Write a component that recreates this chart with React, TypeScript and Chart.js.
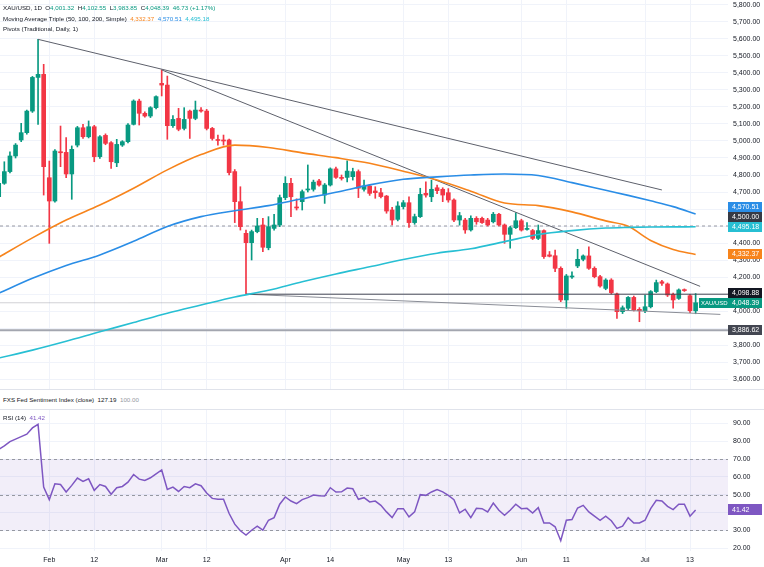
import { useEffect, useRef } from "react";
import { Chart, registerables } from "chart.js";

Chart.register(...registerables);

const FONT = "'Liberation Sans', Arial, sans-serif";
const TEXT = "#131722";
const GRID = "#f0f3fa";
const UP = "#089981";
const DOWN = "#f23645";
const MA50_COLOR = "#f7841c";
const MA100_COLOR = "#2a8de6";
const MA200_COLOR = "#27bfd3";
const RSI_COLOR = "#7e57c2";

// Trading sessions shown (weekends and Good Friday have no bar)
const janDays = [20, 21, 22, 23, 26, 27, 28, 29, 30];
const febDays = [2, 3, 4, 5, 6, 9, 10, 11, 12, 13, 16, 17, 18, 19, 20, 23, 24, 25, 26, 27];
const marDays = [2, 3, 4, 5, 6, 9, 10, 11, 12, 13, 16, 17, 18, 19, 20, 23, 24, 25, 26, 27, 30, 31];
const aprDays = [1, 2, 6, 7, 8, 9, 10, 13, 14, 15, 16, 17, 20, 21, 22, 23, 24, 27, 28, 29, 30];
const mayDays = [1, 4, 5, 6, 7, 8, 11, 12, 13, 14, 15, 18, 19, 20, 21, 22, 25, 26, 27, 28, 29];
const junDays = [1, 2, 3, 4, 5, 8, 9, 10, 11, 12, 15, 16, 17, 18, 19, 22, 23, 24, 25, 26, 29, 30];
const julDays = [1, 2, 3, 6, 7, 8, 9, 10, 13, 14];

const sessionMonths: [string, number[]][] = [
  ["Jan", janDays], ["Feb", febDays], ["Mar", marDays], ["Apr", aprDays],
  ["May", mayDays], ["Jun", junDays], ["Jul", julDays],
];
const sessions: string[] = sessionMonths.flatMap(([m, days]) => days.map((d) => `${m} ${d}`));

// XAU/USD daily OHLC
const openPx = [
  4672, 4751, 4820, 4912, 5006, 5049, 5176, 5374, 5392, 4784,
  4647, 4937, 4933, 4806, 4976, 5078, 5025, 5084, 4908, 5033,
  4990, 4872, 4976, 4996, 5098, 5235, 5163, 5147, 5196, 5339,
  5329, 5090, 5133, 5074, 5176, 5133, 5182, 5176, 5074, 5008,
  5006, 5006, 4820, 4643, 4457, 4402, 4467, 4506, 4372, 4486,
  4506, 4667, 4751, 4612, 4643, 4712, 4716, 4765, 4682, 4741,
  4836, 4786, 4786, 4790, 4820, 4716, 4735, 4706, 4696, 4676,
  4594, 4539, 4614, 4637, 4520, 4555, 4692, 4672, 4725, 4716,
  4696, 4653, 4535, 4535, 4477, 4545, 4545, 4535, 4525, 4569,
  4506, 4451, 4490, 4531, 4480, 4473, 4427, 4473, 4330, 4325,
  4251, 4065, 4200, 4265, 4304, 4324, 4251, 4202, 4133, 4182,
  4100, 3996, 4016, 4080, 4010, 4002, 4025, 4114, 4172, 4159,
  4098, 4074, 4124, 4090, 4001.32,
];
const highPx = [
  4762, 4878, 4937, 4985, 5104, 5182, 5380, 5598, 5451, 4882,
  4950, 5088, 5020, 4971, 5086, 5098, 5118, 5092, 5032, 5042,
  4996, 5010, 5002, 5102, 5242, 5246, 5172, 5202, 5266, 5418,
  5382, 5150, 5192, 5196, 5182, 5235, 5196, 5186, 5080, 5035,
  5035, 5012, 4832, 4731, 4476, 4476, 4545, 4545, 4555, 4569,
  4682, 4790, 4780, 4660, 4712, 4859, 4770, 4775, 4750, 4842,
  4846, 4800, 4884, 4840, 4830, 4770, 4745, 4731, 4722, 4680,
  4610, 4643, 4650, 4672, 4570, 4722, 4760, 4770, 4740, 4725,
  4720, 4660, 4580, 4545, 4560, 4555, 4552, 4545, 4580, 4575,
  4512, 4498, 4578, 4540, 4520, 4480, 4506, 4478, 4350, 4359,
  4260, 4215, 4231, 4363, 4330, 4378, 4260, 4210, 4190, 4190,
  4105, 4030, 4085, 4088, 4020, 4094, 4120, 4182, 4180, 4165,
  4105, 4130, 4130, 4098, 4102.55,
];
const lowPx = [
  4660, 4745, 4812, 4900, 4996, 5040, 5168, 5098, 4682, 4398,
  4640, 4849, 4784, 4657, 4965, 5015, 5018, 4878, 4898, 4978,
  4839, 4849, 4968, 4988, 5094, 5094, 5140, 5138, 5188, 5265,
  5010, 5080, 5060, 5065, 5015, 5125, 5170, 5065, 5005, 4976,
  4976, 4800, 4520, 4476, 4098.88, 4300, 4460, 4349, 4360, 4476,
  4496, 4655, 4555, 4594, 4594, 4700, 4705, 4735, 4633, 4735,
  4780, 4770, 4760, 4770, 4667, 4705, 4680, 4663, 4665, 4575,
  4506, 4530, 4600, 4492, 4510, 4550, 4670, 4643, 4690, 4643,
  4640, 4525, 4505, 4457, 4470, 4510, 4515, 4500, 4518, 4500,
  4398, 4369, 4485, 4470, 4475, 4420, 4420, 4310, 4318, 4231,
  4055, 4016, 4192, 4255, 4295, 4245, 4195, 4140, 4125, 4100,
  3957, 3985, 4005, 4000, 3937, 3990, 4018, 4108, 4150, 4085,
  4016, 4068, 4115, 3990, 3983.85,
];
const closePx = [
  4751, 4820, 4912, 4976, 5049, 5176, 5374, 5392, 4849, 4647,
  4941, 4931, 4806, 4951, 5078, 5025, 5084, 4908, 5025, 4986,
  4878, 4980, 4996, 5094, 5235, 5163, 5147, 5196, 5261, 5329,
  5090, 5127, 5069, 5127, 5133, 5182, 5176, 5074, 5015, 5003,
  5000, 4814, 4643, 4496, 4402, 4467, 4500, 4375, 4496, 4506,
  4667, 4751, 4672, 4606, 4702, 4716, 4758, 4741, 4741, 4836,
  4786, 4780, 4823, 4820, 4722, 4735, 4692, 4696, 4673, 4588,
  4535, 4618, 4637, 4520, 4555, 4686, 4682, 4716, 4708, 4682,
  4653, 4535, 4561, 4477, 4545, 4525, 4520, 4506, 4569, 4506,
  4451, 4490, 4531, 4476, 4484, 4427, 4473, 4320, 4322, 4251,
  4065, 4206, 4206, 4304, 4324, 4251, 4202, 4147, 4182, 4108,
  3996, 4019, 4080, 4006, 4002, 4025, 4114, 4167, 4163, 4094,
  4065, 4124, 4120, 4001.66, 4048.39,
];

// Moving Average Triple (50, 100, 200, Simple), sampled by session index
const maSampleIdx = [0, 6, 12, 18, 24, 30, 36, 42, 48, 54, 60, 66, 72, 78, 84, 90, 96, 102, 108, 112, 116, 120, 124];
const sma50 = [4316, 4430, 4535, 4623, 4722, 4830, 4920, 4976, 4962, 4930, 4902, 4869, 4822, 4770, 4705, 4635, 4620, 4583, 4530, 4498, 4415, 4362, 4332.37];
const sma100 = [4104, 4192, 4268, 4330, 4410, 4497, 4555, 4590, 4620, 4660, 4698, 4742, 4775, 4789, 4800, 4806, 4797, 4755, 4710, 4680, 4648, 4614, 4570.51];
const sma200 = [3723, 3770, 3822, 3878, 3932, 3987, 4035, 4082, 4122, 4172, 4218, 4260, 4303, 4340, 4366, 4408, 4450, 4473, 4488, 4492, 4494, 4495, 4495.18];

// RSI (14)
const rsi14 = [
  75.5, 77.4, 79.8, 81.2, 82.6, 84.0, 87.5, 89.5, 54.2, 47.2,
  56.1, 55.7, 51.5, 55.2, 59.3, 57.4, 58.9, 52.4, 55.7, 54.6,
  50.2, 53.9, 54.6, 57.0, 61.3, 58.7, 58.0, 59.5, 61.7, 63.9,
  52.9, 54.2, 51.8, 54.6, 53.9, 56.1, 55.0, 50.9, 47.9, 47.4,
  47.4, 39.4, 33.4, 29.7, 27.3, 30.0, 32.3, 30.0, 35.6, 37.1,
  44.6, 48.7, 46.4, 44.9, 47.2, 48.3, 49.8, 49.4, 49.2, 53.9,
  51.5, 51.6, 53.7, 53.3, 47.4, 48.3, 45.9, 46.4, 44.0, 40.3,
  37.1, 42.1, 42.1, 37.5, 40.3, 50.0, 49.6, 51.5, 52.9, 51.6,
  49.6, 47.2, 39.7, 41.8, 37.1, 42.3, 42.1, 40.3, 45.3, 41.2,
  38.4, 41.2, 44.6, 42.1, 42.3, 39.7, 42.7, 34.1, 34.1, 31.9,
  24.1, 35.6, 36.0, 42.5, 44.0, 40.3, 37.9, 35.6, 37.9, 35.3,
  31.0, 32.3, 37.1, 34.1, 34.1, 35.6, 42.1, 46.8, 46.4, 43.4,
  41.6, 44.6, 44.6, 37.9, 41.42,
];

const priceTicks = [5800, 5700, 5600, 5500, 5400, 5300, 5200, 5100, 5000, 4900, 4800, 4700, 4600, 4500, 4400, 4300, 4200, 4100, 4000, 3900, 3800, 3700, 3600];
const rsiTicks = [90, 80, 70, 60, 50, 40, 30, 20];
const rsiBands = [70, 50, 30];
const axisDates = ["Feb 2", "Feb 12", "Mar 2", "Mar 12", "Apr 1", "Apr 14", "May 1", "May 13", "Jun 1", "Jun 11", "Jul 1", "Jul 13"];
const axisTexts = ["Feb", "12", "Mar", "12", "Apr", "14", "May", "13", "Jun", "11", "Jul", "13"];

// Drawn levels and trend lines (session index, price)
const upperTrendStart = [7, 5598];
const upperTrendEnd = [118, 4712];
const midTrendStart = [29, 5418];
const midTrendEnd = [124.8, 4145];
const lowerTrendStart = [44, 4098.88];
const lowerTrendEnd = [128.4, 3980];
const supportLevel = 4098.88;
const supportFrom = 44;
const floorLevel = 3886.62;
const roundLevel = 4500;

const fedSentiment = 127.19;
const fedSentimentBase = 100.0;

// visible session window
const X_MIN = 0.23;
const X_MAX = 129.76;
const AXIS_W = 36;

const fmt = (v: number) => {
  const [i, d] = v.toFixed(2).split(".");
  return i.replace(/\B(?=(\d{3})+(?!\d))/g, ",") + "." + d;
};

const last = closePx.length - 1;
const prevClose = closePx[last - 1];
const change = closePx[last] - prevClose;
const changePct = (change / prevClose) * 100;

const axisIdx = axisDates.map((d) => sessions.indexOf(d));
const idx = closePx.map((_, i) => i);
const candleColors = idx.map((i) => (closePx[i] >= openPx[i] ? UP : DOWN));

const seg = (a: number[], b: number[]) => [{ x: a[0], y: a[1] }, { x: b[0], y: b[1] }];
const maSeries = (vals: number[]) => maSampleIdx.map((x, k) => ({ x, y: vals[k] }));

function drawBox(ctx: CanvasRenderingContext2D, x: number, yc: number, w: number, h: number, bg: string, text: string, fontPx = 7, inset = 4) {
  ctx.fillStyle = bg;
  ctx.fillRect(x, Math.round(yc - h / 2), w, h);
  ctx.fillStyle = "#ffffff";
  ctx.font = `${fontPx}px ${FONT}`;
  ctx.textBaseline = "middle";
  ctx.textAlign = "left";
  ctx.fillText(text, x + inset, Math.round(yc - h / 2) + h / 2 + 0.5);
}

const priceLabels = {
  id: "priceLabels",
  afterDraw(chart: any) {
    const { ctx, chartArea, scales } = chart;
    const y = scales.y;
    const items = [
      { v: sma100[sma100.length - 1], bg: MA100_COLOR },
      { v: roundLevel, bg: "#363a45" },
      { v: sma200[sma200.length - 1], bg: MA200_COLOR },
      { v: sma50[sma50.length - 1], bg: MA50_COLOR },
      { v: supportLevel, bg: "#131722" },
      { v: closePx[last], bg: UP, tag: "XAU/USD" },
      { v: floorLevel, bg: "#434651" },
    ].map((it) => ({ ...it, py: y.getPixelForValue(it.v) }));
    items.sort((a, b) => b.py - a.py);
    const H = 10;
    let limit = Infinity;
    for (const it of items) {
      it.py = Math.min(it.py, limit);
      limit = it.py - H;
    }
    ctx.save();
    const w = chart.width - chartArea.right - 2;
    for (const it of items) {
      drawBox(ctx, chartArea.right, it.py, w, H, it.bg, fmt(it.v));
      if ((it as any).tag) {
        drawBox(ctx, chartArea.right - 29, it.py, 29, H, it.bg, (it as any).tag, 6, 2);
      }
    }
    ctx.restore();
  },
};

const rsiOverlay = {
  id: "rsiOverlay",
  beforeDatasetsDraw(chart: any) {
    const { ctx, chartArea, scales } = chart;
    const y = scales.y;
    const top = y.getPixelForValue(Math.max(...rsiBands));
    const bot = y.getPixelForValue(Math.min(...rsiBands));
    ctx.save();
    ctx.fillStyle = "rgba(126, 87, 194, 0.1)";
    ctx.fillRect(chartArea.left, top, chartArea.right - chartArea.left, bot - top);
    ctx.strokeStyle = "#9598a1";
    ctx.lineWidth = 1;
    ctx.setLineDash([3, 3]);
    for (const v of rsiBands) {
      const py = Math.round(y.getPixelForValue(v)) + 0.5;
      ctx.beginPath();
      ctx.moveTo(chartArea.left, py);
      ctx.lineTo(chartArea.right, py);
      ctx.stroke();
    }
    ctx.restore();
  },
  afterDraw(chart: any) {
    const { ctx, chartArea, scales } = chart;
    const v = rsi14[rsi14.length - 1];
    ctx.save();
    drawBox(ctx, chartArea.right, scales.y.getPixelForValue(v), chart.width - chartArea.right - 2, 11, RSI_COLOR, v.toFixed(2));
    ctx.restore();
  },
};

const fixedAxisWidth = (s: any) => {
  s.width = AXIS_W;
  s.paddingTop = 0;
  s.paddingBottom = 0;
};

export default function App() {
  const mainRef = useRef<HTMLCanvasElement>(null);
  const rsiRef = useRef<HTMLCanvasElement>(null);

  useEffect(() => {
    document.body.style.margin = "0";
    const paneH = 389;
    // price pane: 5,800 sits 5px below the top, 100 points = 17px
    const pxPerPoint = 0.17;
    const yMax = 5800 + 5 / pxPerPoint;
    const yMin = 5800 - (paneH - 5) / pxPerPoint;

    const line = (data: any[], color: string, width = 1, dash: number[] = [], order = 1) => ({
      type: "line" as const,
      data,
      borderColor: color,
      borderWidth: width,
      borderDash: dash,
      pointRadius: 0,
      tension: 0,
      order,
    });

    const main = new Chart(mainRef.current!, {
      type: "line",
      data: {
        datasets: [
          {
            type: "bar",
            data: idx.map((i) => ({ x: i, y: [lowPx[i], highPx[i]] })),
            backgroundColor: candleColors,
            barThickness: 1,
            grouped: false,
            order: 4,
          } as any,
          {
            type: "bar",
            data: idx.map((i) => ({ x: i, y: [openPx[i], closePx[i]] })),
            backgroundColor: candleColors,
            barThickness: 4,
            minBarLength: 1,
            grouped: false,
            order: 3,
          } as any,
          line([{ x: X_MIN, y: roundLevel }, { x: X_MAX, y: roundLevel }], "#9598a1", 1, [3, 3], 5),
          line([{ x: X_MIN, y: closePx[last] }, { x: X_MAX, y: closePx[last] }], "rgba(120,123,134,0.35)", 1, [], 5),
          line([{ x: X_MIN, y: floorLevel }, { x: X_MAX, y: floorLevel }], "#a3a6af", 2, [], 5),
          line([{ x: supportFrom, y: supportLevel }, { x: X_MAX, y: supportLevel }], "#434651", 1, [], 2),
          line(seg(upperTrendStart, upperTrendEnd), "#5d606b", 1, [], 2),
          line(seg(midTrendStart, midTrendEnd), "#5d606b", 1, [], 2),
          line(seg(lowerTrendStart, lowerTrendEnd), "#8a8d96", 1, [], 2),
          { ...line(maSeries(sma200), MA200_COLOR, 1.6, [], 0), cubicInterpolationMode: "monotone" },
          { ...line(maSeries(sma100), MA100_COLOR, 1.6, [], 0), cubicInterpolationMode: "monotone" },
          { ...line(maSeries(sma50), MA50_COLOR, 1.6, [], 0), cubicInterpolationMode: "monotone" },
        ] as any,
      },
      options: {
        responsive: false,
        animation: false,
        events: [],
        layout: { padding: 0 },
        plugins: { legend: { display: false }, tooltip: { enabled: false } },
        scales: {
          x: {
            type: "linear",
            min: X_MIN,
            max: X_MAX,
            offset: false,
            afterBuildTicks: (s: any) => {
              s.ticks = axisIdx.map((v) => ({ value: v }));
            },
            afterFit: (s: any) => {
              s.height = 0;
              s.paddingLeft = 0;
              s.paddingRight = 0;
            },
            ticks: { display: false },
            grid: { color: GRID, drawTicks: false, offset: false },
            border: { display: false },
          },
          y: {
            type: "linear",
            position: "right",
            min: yMin,
            max: yMax,
            afterBuildTicks: (s: any) => {
              s.ticks = priceTicks.map((v) => ({ value: v }));
            },
            afterFit: fixedAxisWidth,
            ticks: {
              autoSkip: false,
              padding: 5,
              color: TEXT,
              font: { family: FONT, size: 7 },
              callback: (v: any) => fmt(Number(v)),
            },
            grid: { color: GRID, drawTicks: false },
            border: { display: false },
          },
        },
      } as any,
      plugins: [priceLabels],
    });

    // RSI pane: 90 at 13.5px from the top, 10 points = 17.8px
    const rsiPx = 1.7786;
    const rsiMax = 90 + 13.5 / rsiPx;
    const rsiMin = 20 - 3 / rsiPx;

    const rsi = new Chart(rsiRef.current!, {
      type: "line",
      data: {
        datasets: [
          {
            data: idx.map((i) => ({ x: i, y: rsi14[i] })),
            borderColor: RSI_COLOR,
            borderWidth: 1.5,
            pointRadius: 0,
            tension: 0,
          },
        ],
      },
      options: {
        responsive: false,
        animation: false,
        events: [],
        layout: { padding: 0 },
        plugins: { legend: { display: false }, tooltip: { enabled: false } },
        scales: {
          x: {
            type: "linear",
            min: X_MIN,
            max: X_MAX,
            afterBuildTicks: (s: any) => {
              s.ticks = axisIdx.map((v) => ({ value: v }));
            },
            afterFit: (s: any) => {
              s.height = 16;
              s.paddingLeft = 0;
              s.paddingRight = 0;
            },
            ticks: {
              autoSkip: false,
              maxRotation: 0,
              padding: 5,
              color: TEXT,
              font: { family: FONT, size: 7 },
              callback: (v: any) => {
                const k = axisIdx.indexOf(Number(v));
                return k >= 0 ? axisTexts[k] : "";
              },
            },
            grid: { color: GRID, drawTicks: false },
            border: { display: false },
          },
          y: {
            type: "linear",
            position: "right",
            min: rsiMin,
            max: rsiMax,
            afterBuildTicks: (s: any) => {
              s.ticks = rsiTicks.map((v) => ({ value: v }));
            },
            afterFit: fixedAxisWidth,
            ticks: {
              autoSkip: false,
              padding: 5,
              color: TEXT,
              font: { family: FONT, size: 7 },
              callback: (v: any) => Number(v).toFixed(2),
            },
            grid: { color: GRID, drawTicks: false },
            border: { display: false },
          },
        },
      } as any,
      plugins: [rsiOverlay],
    });

    return () => {
      main.destroy();
      rsi.destroy();
    };
  }, []);

  const small: React.CSSProperties = {
    position: "absolute",
    left: 3,
    fontSize: "6.2px",
    lineHeight: "10px",
    color: TEXT,
    whiteSpace: "nowrap",
    fontFamily: FONT,
  };
  const g = { color: UP };

  return (
    <div style={{ position: "relative", width: 764, height: 567, background: "#ffffff", overflow: "hidden", fontFamily: FONT }}>
      <canvas ref={mainRef} width={764} height={389} style={{ position: "absolute", left: 0, top: 0 }} />
      <div style={{ position: "absolute", left: 0, top: 389, width: 764, height: 1, background: "#e0e3eb" }} />
      <div style={{ position: "absolute", left: 0, top: 409, width: 764, height: 1, background: "#e0e3eb" }} />
      <canvas ref={rsiRef} width={764} height={157} style={{ position: "absolute", left: 0, top: 410 }} />

      <div style={{ ...small, top: 3 }}>
        XAU/USD, 1D&nbsp; O<span style={g}>{fmt(openPx[last])}</span>&nbsp; H<span style={g}>{fmt(highPx[last])}</span>&nbsp; L
        <span style={g}>{fmt(lowPx[last])}</span>&nbsp; C<span style={g}>{fmt(closePx[last])}</span>&nbsp;{" "}
        <span style={g}>
          {change.toFixed(2)} (+{changePct.toFixed(2)}%)
        </span>
      </div>
      <div style={{ ...small, top: 14 }}>
        Moving Average Triple (50, 100, 200, Simple)&nbsp;{" "}
        <span style={{ color: MA50_COLOR }}>{fmt(sma50[sma50.length - 1])}</span>&nbsp;{" "}
        <span style={{ color: MA100_COLOR }}>{fmt(sma100[sma100.length - 1])}</span>&nbsp;{" "}
        <span style={{ color: MA200_COLOR }}>{fmt(sma200[sma200.length - 1])}</span>
      </div>
      <div style={{ ...small, top: 24 }}>Pivots (Traditional, Daily, 1)</div>

      <div style={{ ...small, top: 395 }}>
        FXS Fed Sentiment Index (close)&nbsp;&nbsp;{fedSentiment.toFixed(2)}&nbsp;&nbsp;
        <span style={{ color: "#9598a1" }}>{fedSentimentBase.toFixed(2)}</span>
      </div>
      <div style={{ ...small, top: 413 }}>
        RSI (14)&nbsp;&nbsp;<span style={{ color: RSI_COLOR }}>{rsi14[rsi14.length - 1].toFixed(2)}</span>
      </div>
    </div>
  );
}
